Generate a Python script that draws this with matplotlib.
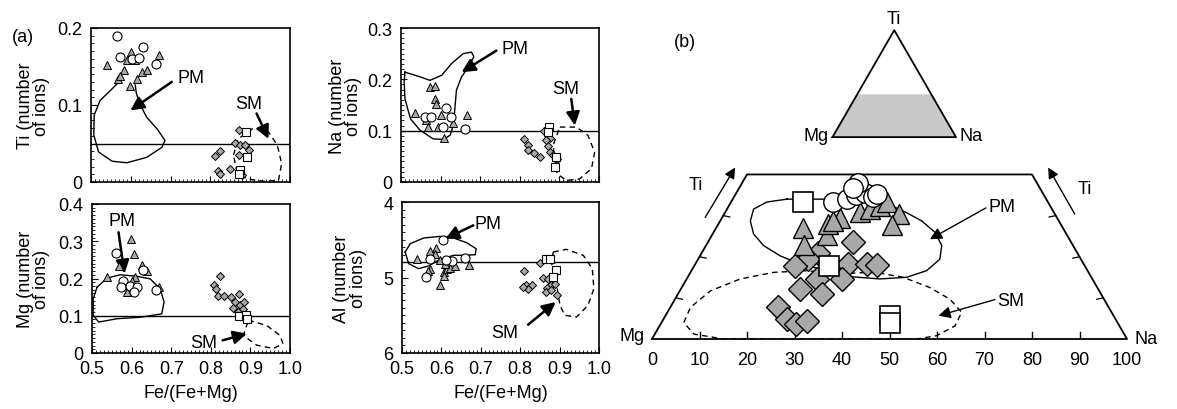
import matplotlib.pyplot as plt
import numpy as np
from matplotlib.ticker import MultipleLocator

plt.rcParams['font.family'] = ['Liberation Sans', 'DejaVu Sans']
plt.rcParams['font.size'] = 13

GRAY = '#a8a8a8'
FE_TICKS = [0.5, 0.6, 0.7, 0.8, 0.9, 1.0]
FE_LABELS = ['0.5', '0.6', '0.7', '0.8', '0.9', '1.0']

# ---- (a) Ti vs Fe/(Fe+Mg) ----
ti_circ_x = [0.565, 0.630, 0.574, 0.603, 0.620, 0.664]
ti_circ_y = [0.189, 0.175, 0.162, 0.160, 0.161, 0.153]
ti_tri_x = [0.540, 0.601, 0.590, 0.582, 0.569, 0.599, 0.615, 0.628, 0.640, 0.671, 0.611, 0.574]
ti_tri_y = [0.152, 0.169, 0.158, 0.145, 0.134, 0.125, 0.134, 0.143, 0.145, 0.165, 0.158, 0.138]
ti_dia_x = [0.873, 0.823, 0.812, 0.862, 0.875, 0.887, 0.896, 0.873, 0.818, 0.823, 0.849, 0.873, 0.879]
ti_dia_y = [0.068, 0.040, 0.034, 0.051, 0.048, 0.048, 0.042, 0.035, 0.014, 0.010, 0.017, 0.013, 0.009]
ti_sq_x = [0.889, 0.891, 0.875, 0.871]
ti_sq_y = [0.065, 0.032, 0.015, 0.010]
ti_pm_x = [0.574, 0.553, 0.523, 0.508, 0.507, 0.519, 0.553, 0.590, 0.640, 0.678, 0.686,
           0.666, 0.640, 0.624, 0.614, 0.611]
ti_pm_y = [0.132, 0.121, 0.106, 0.087, 0.061, 0.039, 0.027, 0.025, 0.032, 0.045, 0.054,
           0.069, 0.084, 0.100, 0.115, 0.126]
ti_sm_x = [0.858, 0.870, 0.908, 0.946, 0.968, 0.979, 0.971, 0.933, 0.891, 0.866, 0.858]
ti_sm_y = [0.035, 0.056, 0.070, 0.065, 0.048, 0.024, 0.002, 0.001, 0.004, 0.015, 0.035]
ti_ref = 0.05

# ---- (a) Na vs Fe/(Fe+Mg) ----
na_circ_x = [0.561, 0.575, 0.613, 0.626, 0.607, 0.661]
na_circ_y = [0.127, 0.127, 0.144, 0.127, 0.107, 0.104]
na_tri_x = [0.573, 0.586, 0.586, 0.588, 0.535, 0.600, 0.563, 0.567, 0.594, 0.632, 0.666, 0.608]
na_tri_y = [0.185, 0.187, 0.162, 0.151, 0.134, 0.131, 0.120, 0.107, 0.107, 0.114, 0.131, 0.086]
na_dia_x = [0.810, 0.821, 0.821, 0.835, 0.852, 0.860, 0.876, 0.871, 0.877, 0.884, 0.894, 0.867]
na_dia_y = [0.084, 0.073, 0.062, 0.057, 0.049, 0.099, 0.086, 0.071, 0.058, 0.052, 0.045, 0.081]
na_sq_x = [0.874, 0.870, 0.892, 0.888]
na_sq_y = [0.108, 0.097, 0.049, 0.029]
na_pm_x = [0.510, 0.548, 0.573, 0.603, 0.628, 0.657, 0.678, 0.684, 0.670, 0.653, 0.640,
           0.636, 0.632, 0.624, 0.607, 0.581, 0.548, 0.524, 0.510, 0.508, 0.510]
na_pm_y = [0.214, 0.205, 0.198, 0.208, 0.231, 0.250, 0.253, 0.244, 0.224, 0.205, 0.179,
           0.143, 0.110, 0.091, 0.083, 0.084, 0.101, 0.123, 0.162, 0.195, 0.214]
na_sm_x = [0.901, 0.943, 0.972, 0.989, 0.981, 0.951, 0.918, 0.894, 0.884, 0.901]
na_sm_y = [0.107, 0.107, 0.091, 0.058, 0.026, 0.006, 0.003, 0.016, 0.071, 0.107]
na_ref = 0.1

# ---- (a) Mg vs Fe/(Fe+Mg) ----
mg_circ_x = [0.561, 0.629, 0.578, 0.573, 0.595, 0.613, 0.605, 0.662]
mg_circ_y = [0.268, 0.223, 0.192, 0.177, 0.179, 0.177, 0.163, 0.168]
mg_tri_x = [0.538, 0.598, 0.607, 0.567, 0.626, 0.639, 0.609, 0.601, 0.590, 0.668, 0.588]
mg_tri_y = [0.204, 0.306, 0.266, 0.233, 0.237, 0.221, 0.204, 0.192, 0.168, 0.177, 0.165]
mg_dia_x = [0.822, 0.807, 0.813, 0.819, 0.834, 0.850, 0.872, 0.861, 0.874, 0.884, 0.857,
            0.881, 0.868, 0.882]
mg_dia_y = [0.206, 0.183, 0.172, 0.153, 0.154, 0.150, 0.159, 0.137, 0.129, 0.137, 0.121,
            0.117, 0.110, 0.103]
mg_sq_x = [0.870, 0.889, 0.891]
mg_sq_y = [0.099, 0.101, 0.092]
mg_pm_x = [0.513, 0.538, 0.571, 0.613, 0.647, 0.672, 0.682, 0.676, 0.622, 0.563, 0.517,
           0.503, 0.503, 0.513]
mg_pm_y = [0.177, 0.201, 0.210, 0.206, 0.199, 0.172, 0.137, 0.105, 0.096, 0.092, 0.083,
           0.101, 0.146, 0.177]
mg_sm_x = [0.895, 0.941, 0.975, 0.982, 0.958, 0.916, 0.882, 0.895]
mg_sm_y = [0.088, 0.074, 0.047, 0.025, 0.012, 0.021, 0.047, 0.088]
mg_ref = 0.1

# ---- (a) Al vs Fe/(Fe+Mg) (inverted axis) ----
al_circ_x = [0.605, 0.572, 0.626, 0.660, 0.562, 0.612]
al_circ_y = [4.499, 4.751, 4.786, 4.737, 4.993, 4.764]
al_tri_x = [0.538, 0.572, 0.587, 0.584, 0.597, 0.570, 0.567, 0.607, 0.614, 0.622, 0.635,
            0.607, 0.597, 0.669, 0.610]
al_tri_y = [4.751, 4.653, 4.609, 4.684, 4.773, 4.883, 4.918, 4.927, 4.883, 4.874, 4.848,
            4.980, 5.095, 4.839, 4.817]
al_dia_x = [0.809, 0.814, 0.829, 0.820, 0.806, 0.850, 0.857, 0.871, 0.877, 0.867, 0.865,
            0.879, 0.894, 0.888]
al_dia_y = [4.918, 5.104, 5.104, 5.148, 5.126, 4.804, 5.007, 5.024, 5.104, 5.139, 5.192,
            5.170, 5.227, 5.082]
al_sq_x = [0.865, 0.875, 0.890, 0.884]
al_sq_y = [4.759, 4.759, 4.905, 4.993]
al_pm_x = [0.508, 0.521, 0.555, 0.597, 0.631, 0.664, 0.688, 0.686, 0.660, 0.631, 0.597,
           0.567, 0.542, 0.517, 0.508]
al_pm_y = [4.662, 4.552, 4.477, 4.455, 4.477, 4.539, 4.618, 4.698, 4.706, 4.706, 4.759,
           4.848, 4.883, 4.817, 4.662]
al_sm_x = [0.884, 0.917, 0.960, 0.983, 0.987, 0.972, 0.943, 0.913, 0.901, 0.894, 0.879, 0.884]
al_sm_y = [4.662, 4.627, 4.706, 4.883, 5.148, 5.369, 5.523, 5.501, 5.369, 5.148, 4.795, 4.662]
al_ref = 4.8

# ---- (b) ternary Mg-Na-Ti: position along base (0-100) and Ti % ----
tern_sq_x = [31.7, 37.3, 50.2, 50.2]
tern_sq_ti = [33.2, 17.8, 5.7, 4.0]
tern_circ_x = [38.1, 41.0, 43.0, 44.8, 46.6, 43.4, 42.4, 47.3]
tern_circ_ti = [33.4, 34.1, 35.0, 35.6, 34.4, 38.0, 36.6, 35.2]
tern_tri_x = [31.7, 31.9, 36.8, 37.1, 39.5, 38.2, 43.8, 45.9, 48.0, 49.4, 51.9, 50.5]
tern_tri_ti = [27.1, 22.8, 25.2, 27.9, 29.5, 28.7, 30.9, 31.6, 32.4, 33.2, 30.3, 27.7]
tern_dia_x = [42.4, 35.0, 32.9, 30.1, 41.3, 45.2, 47.4, 34.7, 39.9, 31.2, 35.7, 26.6,
              28.4, 30.3, 32.7]
tern_dia_ti = [23.5, 21.0, 19.4, 17.8, 18.2, 18.2, 18.0, 14.6, 14.6, 12.1, 10.9, 7.7,
               4.9, 3.6, 4.4]
tern_pm_x = [28.4, 24.2, 21.4, 20.7, 21.4, 23.5, 27.0, 31.2, 36.8, 42.4, 48.0, 53.6, 57.8,
             60.6, 61.0, 59.6, 56.8, 53.6, 50.8, 48.0, 42.4, 36.8, 28.4]
tern_pm_ti = [34.0, 33.3, 31.6, 28.7, 25.5, 22.7, 20.2, 18.2, 16.6, 15.1, 14.6, 15.0, 16.6,
              19.4, 22.7, 25.9, 28.7, 30.7, 32.2, 33.6, 34.0, 34.0, 34.0]
tern_sm_x = [39.6, 46.6, 52.9, 58.5, 62.7, 65.2, 63.8, 59.9, 55.7, 39.6, 15.1, 8.8, 6.7,
             8.1, 12.3, 18.6, 25.6, 32.6, 39.6]
tern_sm_ti = [15.8, 16.3, 15.0, 12.5, 9.7, 6.5, 3.2, 0.8, 0.0, 0.0, 0.0, 1.2, 4.0,
              7.7, 11.7, 14.6, 16.2, 16.6, 15.8]
tern_ti_max = 40
tern_base_ticks = [0, 10, 20, 30, 40, 50, 60, 70, 80, 90, 100]
tern_side_ticks = [10, 20, 30]

H = np.sqrt(3) / 2


def px_axes(l, t, r, b):
    return [l / 1177, 1 - b / 410, (r - l) / 1177, (b - t) / 410]


def arrow(ax, tail, head, lw=1.8, ms=20):
    ax.annotate('', xy=head, xytext=tail,
                arrowprops=dict(arrowstyle='-|>', color='black', lw=lw,
                                mutation_scale=ms, shrinkA=0, shrinkB=0))


def panel(ax, circ, tri, dia, sq, pm, sm, ref, ylab, ylim, yticks, ylabels,
          yminor, pm_lab, sm_lab, bottom, lab_x):
    ax.plot(pm[0], pm[1], color='black', lw=1.0, zorder=2)
    ax.plot(sm[0], sm[1], color='black', lw=1.0, ls=(0, (4, 3)), zorder=2)
    ax.axhline(ref, color='black', lw=1.0, zorder=2)
    ax.plot(dia[0], dia[1], 'D', ms=3.8, mfc=GRAY, mec='black', mew=0.7, zorder=3)
    ax.plot(sq[0], sq[1], 's', ms=5.5, mfc='white', mec='black', mew=0.8, zorder=3)
    ax.plot(tri[0], tri[1], '^', ms=5.5, mfc=GRAY, mec='black', mew=0.7, zorder=4)
    ax.plot(circ[0], circ[1], 'o', ms=6.5, mfc='white', mec='black', mew=0.8, zorder=4)

    ax.text(pm_lab[0][0], pm_lab[0][1], 'PM', ha='center', va='center')
    arrow(ax, pm_lab[1], pm_lab[2])
    ax.text(sm_lab[0][0], sm_lab[0][1], 'SM', ha='center', va='center')
    arrow(ax, sm_lab[1], sm_lab[2])

    ax.set_xlim(0.5, 1.0)
    ax.set_ylim(*ylim)
    ax.set_xticks(FE_TICKS)
    ax.set_yticks(yticks)
    ax.set_yticklabels(ylabels)
    ax.xaxis.set_minor_locator(MultipleLocator(0.01))
    ax.yaxis.set_minor_locator(MultipleLocator(yminor))
    ax.tick_params(which='both', direction='in', top=False, right=False)
    ax.tick_params(which='major', length=4, width=0.8)
    ax.tick_params(which='minor', length=2, width=0.6)
    ax.tick_params(axis='x', pad=5)
    ax.tick_params(axis='y', pad=6)
    if bottom:
        ax.set_xticklabels(FE_LABELS)
        ax.set_xlabel('Fe/(Fe+Mg)', labelpad=5)
    else:
        ax.set_xticklabels([])
    ax.set_ylabel(ylab, linespacing=0.95)
    ax.yaxis.set_label_coords(lab_x, 0.5)
    for s in ax.spines.values():
        s.set_linewidth(1.2)


fig = plt.figure(figsize=(11.77, 4.10), dpi=100)

ax_ti = fig.add_axes(px_axes(91, 29, 290, 183))
panel(ax_ti, (ti_circ_x, ti_circ_y), (ti_tri_x, ti_tri_y), (ti_dia_x, ti_dia_y),
      (ti_sq_x, ti_sq_y), (ti_pm_x, ti_pm_y), (ti_sm_x, ti_sm_y), ti_ref,
      'Ti (number\nof ions)', (0, 0.2), [0, 0.1, 0.2], ['0', '0.1', '0.2'], 0.01,
      ((0.751, 0.136), (0.703, 0.130), (0.599, 0.093)),
      ((0.895, 0.102), (0.916, 0.089), (0.946, 0.056)), False, -0.205)

ax_na = fig.add_axes(px_axes(401, 29, 599, 183))
panel(ax_na, (na_circ_x, na_circ_y), (na_tri_x, na_tri_y), (na_dia_x, na_dia_y),
      (na_sq_x, na_sq_y), (na_pm_x, na_pm_y), (na_sm_x, na_sm_y), na_ref,
      'Na (number\nof ions)', (0, 0.3), [0, 0.1, 0.2, 0.3], ['0', '0.1', '0.2', '0.3'], 0.01,
      ((0.787, 0.261), (0.741, 0.256), (0.653, 0.214)),
      ((0.916, 0.182), (0.930, 0.162), (0.939, 0.110)), False, -0.195)

ax_mg = fig.add_axes(px_axes(92, 205, 290, 354))
panel(ax_mg, (mg_circ_x, mg_circ_y), (mg_tri_x, mg_tri_y), (mg_dia_x, mg_dia_y),
      (mg_sq_x, mg_sq_y), (mg_pm_x, mg_pm_y), (mg_sm_x, mg_sm_y), mg_ref,
      'Mg (number\nof ions)', (0, 0.4), [0, 0.1, 0.2, 0.3, 0.4],
      ['0', '0.1', '0.2', '0.3', '0.4'], 0.01,
      ((0.576, 0.356), (0.567, 0.324), (0.582, 0.213)),
      ((0.783, 0.028), (0.830, 0.034), (0.891, 0.052)), True, -0.21)

ax_al = fig.add_axes(px_axes(402, 203, 599, 354))
panel(ax_al, (al_circ_x, al_circ_y), (al_tri_x, al_tri_y), (al_dia_x, al_dia_y),
      (al_sq_x, al_sq_y), (al_pm_x, al_pm_y), (al_sm_x, al_sm_y), al_ref,
      'Al (number\nof ions)', (6, 4), [4, 5, 6], ['4', '5', '6'], 0.1,
      ((0.719, 4.287), (0.681, 4.309), (0.610, 4.486)),
      ((0.761, 5.731), (0.820, 5.625), (0.890, 5.325)), True, -0.18)

fig.text(12 / 1177, 1 - 38 / 410, '(a)', va='center', ha='left')

# ---- (b) ternary ----
axb = fig.add_axes(px_axes(652, 0, 1127, 340))
axb.set_xlim(0, 100)
axb.set_ylim(0, 340 / 4.75)
for s in axb.spines.values():
    s.set_visible(False)
axb.set_yticks([])
axb.set_xticks(tern_base_ticks)
axb.set_xticklabels([str(v) for v in tern_base_ticks])
axb.tick_params(axis='x', length=0, pad=9)

top_h = tern_ti_max * H
x_left = tern_ti_max / 2
axb.plot([0, x_left, 100 - x_left, 100, 0], [0, top_h, top_h, 0, 0],
         color='black', lw=1.3, zorder=2, clip_on=False)
for v in tern_base_ticks[1:-1]:
    axb.plot([v, v], [0, 1.5], color='black', lw=1.0, zorder=2)
for t in tern_side_ticks:
    axb.plot([t / 2, t / 2 + 1.4], [t * H, t * H - 0.3], color='black', lw=0.9)
    axb.plot([100 - t / 2, 100 - t / 2 - 1.4], [t * H, t * H - 0.3], color='black', lw=0.9)

axb.plot(tern_pm_x, np.array(tern_pm_ti) * H, color='black', lw=1.0, zorder=2)
axb.plot(tern_sm_x, np.array(tern_sm_ti) * H, color='black', lw=1.0,
         ls=(0, (4, 3)), zorder=2)

axb.plot(tern_dia_x, np.array(tern_dia_ti) * H, 'D', ms=12, mfc=GRAY, mec='black',
         mew=1.0, zorder=3)
axb.plot(tern_tri_x, np.array(tern_tri_ti) * H, '^', ms=14, mfc=GRAY, mec='black',
         mew=1.0, zorder=3)
axb.plot(tern_circ_x, np.array(tern_circ_ti) * H, 'o', ms=14, mfc='white', mec='black',
         mew=1.0, zorder=4)
axb.plot(tern_sq_x, np.array(tern_sq_ti) * H, 's', ms=14, mfc='white', mec='black',
         mew=1.2, zorder=4)

axb.text(-1.5, 0.8, 'Mg', ha='right', va='center')
axb.text(101.5, 0.0, 'Na', ha='left', va='center')
axb.text(70.8, 27.9, 'PM', ha='left', va='center')
arrow(axb, (70.3, 27.6), (58.5, 21.0), lw=1.0, ms=18)
axb.text(72.6, 8.2, 'SM', ha='left', va='center')
arrow(axb, (72.2, 8.3), (60.3, 4.9), lw=1.0, ms=18)
axb.text(9.3, 32.6, 'Ti', ha='center', va='center')
arrow(axb, (11.2, 25.6), (17.5, 36.1), lw=1.0, ms=16)
axb.text(91.1, 31.7, 'Ti', ha='center', va='center')
arrow(axb, (89.0, 26.3), (83.4, 36.1), lw=1.0, ms=16)

# small key triangle
kb_l, kb_r, kb_y = 38.0, 64.0, 42.5
k_side = kb_r - kb_l
k_top = kb_y + k_side * H
kf = tern_ti_max / 100
axb.fill([kb_l, kb_l + k_side * kf / 2, kb_r - k_side * kf / 2, kb_r],
         [kb_y, kb_y + k_side * H * kf, kb_y + k_side * H * kf, kb_y],
         color='#c8c8c8', lw=0, zorder=1)
axb.plot([kb_l, (kb_l + kb_r) / 2, kb_r, kb_l], [kb_y, k_top, kb_y, kb_y],
         color='black', lw=1.3, zorder=2)
axb.text((kb_l + kb_r) / 2, k_top + 0.6, 'Ti', ha='center', va='bottom')
axb.text(kb_l - 0.8, kb_y + 0.3, 'Mg', ha='right', va='center')
axb.text(kb_r + 0.8, kb_y + 0.3, 'Na', ha='left', va='center')
axb.text(6.9, 62.7, '(b)', ha='center', va='center')

fig.savefig('out.png', dpi=100)
